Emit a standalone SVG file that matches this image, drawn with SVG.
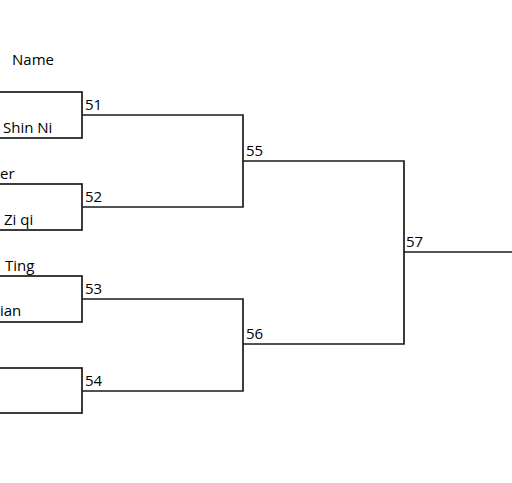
<svg xmlns="http://www.w3.org/2000/svg" width="512" height="483" viewBox="0 0 512 483">
<style>
.t{font-family:"Open Sans","Liberation Sans",sans-serif;font-size:15px;fill:#000}
.b{fill:none;stroke:#1a1a1a;stroke-width:1.7}
.c{fill:none;stroke:#1a1a1a;stroke-width:1.7}
</style>
<rect width="512" height="483" fill="#fff"/>
<text class="t" x="12" y="65">Name</text>
<g id="m51">
<rect class="b" x="-10" y="92" width="92" height="46"/>
<text class="t" x="3" y="133">Shin Ni</text>
<text class="t" x="85" y="110">51</text>
</g>
<g id="m52">
<rect class="b" x="-10" y="184" width="92" height="46"/>
<text class="t" x="0" y="179">er</text>
<text class="t" x="4" y="225">Zi qi</text>
<text class="t" x="85" y="202">52</text>
</g>
<g id="m53">
<rect class="b" x="-10" y="276" width="92" height="46"/>
<text class="t" x="5" y="271">Ting</text>
<text class="t" x="0" y="316">ian</text>
<text class="t" x="85" y="294">53</text>
</g>
<g id="m54">
<rect class="b" x="-10" y="368" width="92" height="45"/>
<text class="t" x="85" y="386">54</text>
</g>
<g id="m55"><text class="t" x="246" y="156">55</text></g>
<g id="m56"><text class="t" x="246" y="339">56</text></g>
<g id="m57"><text class="t" x="406" y="247">57</text></g>
<g id="connectors">
<path class="c" d="M82 115H243V207H82"/>
<path class="c" d="M82 299H243V391H82"/>
<path class="c" d="M243 161H404V344H243"/>
<path class="c" d="M404 252H512"/>
</g>
</svg>
